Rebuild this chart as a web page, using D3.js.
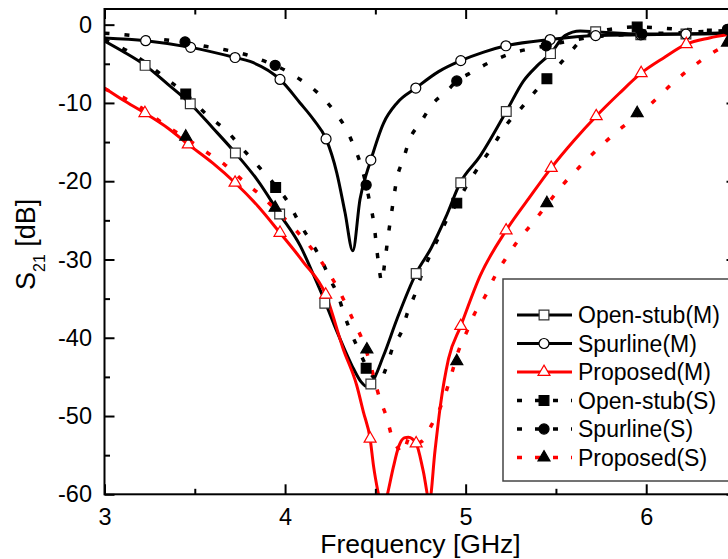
<!DOCTYPE html>
<html>
<head>
<meta charset="utf-8">
<script src="https://cdn.jsdelivr.net/npm/d3@7/dist/d3.min.js"></script>
<style>
  body { margin: 0; background: #fff; }
  svg { display: block; font-family: "Liberation Sans", Arial, sans-serif; }
</style>
</head>
<body>
<svg id="chart" width="728" height="559"></svg>
<script>
// S21 curves, [frequency GHz, dB]
const openStubM = [[3.0,-2.1],[3.1,-3.4],[3.225,-5.2],[3.35,-7.6],[3.475,-10.1],[3.6,-13.2],[3.725,-16.4],[3.845,-19.8],[3.97,-24.2],[4.085,-28.3],[4.16,-32.1],[4.225,-35.6],[4.28,-38.8],[4.33,-41.5],[4.38,-44.0],[4.42,-45.6],[4.45,-46.2],[4.475,-45.9],[4.545,-42.3],[4.62,-37.6],[4.725,-31.8],[4.81,-28.5],[4.89,-24.6],[4.97,-20.2],[5.08,-16.8],[5.225,-11.1],[5.32,-7.2],[5.394,-5.3],[5.47,-3.7],[5.55,-1.4],[5.634,-0.8],[5.72,-0.9],[5.97,-1.2],[6.22,-1.2],[6.5,-1.1]];
const spurlineM = [[3.0,-1.7],[3.228,-2.05],[3.477,-2.9],[3.723,-4.2],[3.806,-4.7],[3.972,-7.0],[4.083,-10.0],[4.16,-12.2],[4.227,-14.6],[4.286,-18.9],[4.332,-24.0],[4.375,-28.9],[4.415,-22.3],[4.475,-17.3],[4.545,-12.6],[4.62,-10.0],[4.724,-8.1],[4.85,-6.0],[4.973,-4.6],[5.1,-3.5],[5.223,-2.7],[5.468,-1.9],[5.72,-1.4],[5.97,-1.3],[6.22,-1.2],[6.5,-1.0]];
const proposedM = [[3.0,-8.1],[3.1,-9.6],[3.224,-11.3],[3.35,-13.2],[3.464,-15.3],[3.6,-17.7],[3.723,-20.2],[3.85,-23.2],[3.972,-26.6],[4.1,-30.3],[4.225,-34.5],[4.323,-41.5],[4.397,-46.1],[4.434,-49.5],[4.471,-52.9],[4.49,-56.4],[4.517,-60],[4.54,-62.5],[4.567,-60],[4.6,-56.5],[4.628,-54],[4.66,-52.8],[4.683,-52.7],[4.726,-53.5],[4.765,-57],[4.8,-60.8],[4.83,-54.5],[4.86,-48.7],[4.905,-42.7],[4.973,-38.5],[5.08,-32.1],[5.224,-26.3],[5.35,-22.2],[5.474,-18.3],[5.6,-14.8],[5.723,-11.7],[5.85,-8.8],[5.972,-6.2],[6.1,-4.2],[6.222,-2.5],[6.35,-1.7],[6.5,-1.1]];
const openStubS = [[3.0,-1.9],[3.16,-3.8],[3.36,-7.2],[3.45,-8.85],[3.566,-11.5],[3.677,-13.6],[3.77,-16.0],[3.86,-18.3],[3.948,-20.6],[4.02,-22.8],[4.083,-25.5],[4.148,-27.9],[4.2,-30.0],[4.249,-32.5],[4.295,-34.7],[4.33,-37.2],[4.37,-39.6],[4.415,-41.9],[4.449,-43.6],[4.5,-45.3],[4.525,-45.6],[4.554,-44.2],[4.6,-41.0],[4.647,-39.1],[4.678,-36.8],[4.72,-34.4],[4.757,-31.9],[4.8,-29.6],[4.85,-27.2],[4.896,-24.9],[4.951,-22.8],[5.015,-20.2],[5.08,-17.9],[5.154,-15.4],[5.219,-13.0],[5.31,-10.6],[5.394,-8.3],[5.45,-6.9],[5.58,-3.5],[5.634,-2.1],[5.75,-0.8],[5.95,-0.3],[6.2,-0.6],[6.5,-0.8]];
const spurlineS = [[3.0,-1.1],[3.16,-1.4],[3.36,-2.0],[3.446,-2.2],[3.566,-2.8],[3.667,-3.2],[3.77,-3.75],[3.88,-4.6],[3.945,-5.2],[4.07,-6.8],[4.185,-8.8],[4.277,-11.2],[4.342,-13.5],[4.386,-15.8],[4.425,-18.3],[4.449,-20.5],[4.47,-22.8],[4.49,-25.1],[4.517,-30.4],[4.535,-32.8],[4.554,-30.0],[4.571,-27.0],[4.59,-24.0],[4.62,-19.6],[4.655,-17.2],[4.689,-14.7],[4.748,-12.6],[4.818,-10.1],[4.896,-8.5],[4.951,-7.2],[5.025,-6.2],[5.126,-4.9],[5.25,-3.7],[5.446,-2.7],[5.7,-1.6],[5.976,-1.2],[6.2,-1.0],[6.5,-0.7]];
const proposedS = [[3.0,-8.2],[3.16,-10.0],[3.36,-13.2],[3.45,-14.5],[3.566,-16.3],[3.667,-17.9],[3.77,-20.0],[3.87,-21.9],[3.972,-24.2],[4.065,-26.4],[4.157,-28.9],[4.23,-31.3],[4.295,-33.8],[4.342,-36.0],[4.388,-38.3],[4.434,-40.6],[4.47,-43.2],[4.526,-47.9],[4.563,-50.2],[4.59,-52.5],[4.628,-54.2],[4.65,-54.8],[4.69,-52.7],[4.72,-53.5],[4.76,-53.2],[4.81,-51.2],[4.86,-48.9],[4.896,-46.6],[4.93,-44.0],[4.96,-41.7],[5.007,-39.2],[5.05,-36.9],[5.108,-34.7],[5.163,-32.1],[5.224,-29.8],[5.293,-27.5],[5.376,-25.2],[5.46,-22.7],[5.54,-20.4],[5.634,-18.1],[5.74,-15.7],[5.846,-13.5],[5.957,-11.5],[6.06,-9.4],[6.15,-7.4],[6.25,-5.5],[6.36,-3.7],[6.5,-2.0]];

// marker positions
const openStubMMarks = [[3.225,-5.2],[3.475,-10.1],[3.725,-16.4],[3.97,-24.2],[4.22,-35.6],[4.475,-45.9],[4.726,-31.8],[4.973,-20.2],[5.225,-11.1],[5.47,-3.7],[5.72,-0.9],[5.97,-1.3],[6.22,-1.2]];
const spurlineMMarks = [[3.228,-2.05],[3.477,-2.9],[3.723,-4.2],[3.972,-7.0],[4.227,-14.6],[4.475,-17.3],[4.724,-8.1],[4.973,-4.6],[5.223,-2.7],[5.468,-1.9],[5.72,-1.4],[5.97,-1.3],[6.22,-1.2]];
const proposedMMarks = [[3.224,-11.3],[3.464,-15.3],[3.723,-20.2],[3.972,-26.6],[4.225,-34.5],[4.471,-52.9],[4.726,-53.5],[4.973,-38.5],[5.224,-26.3],[5.474,-18.3],[5.723,-11.7],[5.972,-6.2],[6.222,-2.5]];
const openStubSMarks = [[3.45,-8.85],[3.948,-20.8],[4.449,-43.9],[4.951,-22.8],[5.45,-6.9],[5.95,-0.3]];
const spurlineSMarks = [[3.446,-2.2],[3.945,-5.2],[4.449,-20.5],[4.951,-7.2],[5.446,-2.7],[5.976,-1.2],[6.45,-0.6]];
const proposedSMarks = [[3.45,-14.3],[3.945,-23.4],[4.453,-41.5],[4.951,-43.0],[5.45,-22.8],[5.95,-11.3],[6.45,-2.3]];

const legendLabels = ["Open-stub(M)", "Spurline(M)", "Proposed(M)", "Open-stub(S)", "Spurline(S)", "Proposed(S)"];
const xTicks = [3, 4, 5, 6];
const yTicks = [-60, -50, -40, -30, -20, -10, 0];

const series = [
  { name: legendLabels[0], data: openStubM, marks: openStubMMarks, color: "#000", dashed: false, symbol: d3.symbolSquare, size: 95, fill: "#fff", mstroke: "#333" },
  { name: legendLabels[1], data: spurlineM, marks: spurlineMMarks, color: "#000", dashed: false, symbol: d3.symbolCircle, size: 78, fill: "#fff", mstroke: "#000" },
  { name: legendLabels[2], data: proposedM, marks: proposedMMarks, color: "#ff0000", dashed: false, symbol: d3.symbolTriangle, size: 62, fill: "#fff", mstroke: "#ff0000" },
  { name: legendLabels[3], data: openStubS, marks: openStubSMarks, color: "#000", dashed: true, symbol: d3.symbolSquare, size: 95, fill: "#000", mstroke: "#000" },
  { name: legendLabels[4], data: spurlineS, marks: spurlineSMarks, color: "#000", dashed: true, symbol: d3.symbolCircle, size: 80, fill: "#000", mstroke: "#000" },
  { name: legendLabels[5], data: proposedS, marks: proposedSMarks, color: "#ff0000", dashed: true, symbol: d3.symbolTriangle, size: 62, fill: "#000", mstroke: "#000" }
];

const svg = d3.select("#chart");
// plot frame (right edge runs past the window, as in the original)
const plotLeft = 104.5, plotRight = 736.5, plotTop = 9, plotBottom = 494.3;

const x = d3.scaleLinear().domain([3, 6.5]).range([plotLeft, plotRight]);
const y = d3.scaleLinear().domain([-60, 2]).range([plotBottom, plotTop]);

svg.append("defs").append("clipPath").attr("id", "plot")
  .append("rect").attr("x", plotLeft).attr("y", plotTop)
  .attr("width", plotRight - plotLeft).attr("height", plotBottom - plotTop);

const line = d3.line()
  .x((d) => x(d[0]))
  .y((d) => y(d[1]))
  .curve(d3.curveMonotoneX);

const DASH = "5,15";

// curves
const plot = svg.append("g").attr("clip-path", "url(#plot)");
series.forEach((s) => {
  plot.append("path")
    .datum(s.data)
    .attr("fill", "none")
    .attr("stroke", s.color)
    .attr("stroke-width", s.dashed ? 3.5 : 3)
    .attr("stroke-dasharray", s.dashed ? DASH : null)
    .attr("d", line);
});

// markers
series.forEach((s) => {
  svg.append("g")
    .selectAll("path")
    .data(s.marks)
    .join("path")
    .attr("transform", (d) => `translate(${x(d[0])},${y(d[1])})`)
    .attr("d", d3.symbol().type(s.symbol).size(s.size))
    .attr("fill", s.fill)
    .attr("stroke", s.mstroke)
    .attr("stroke-width", 1.2);
});

// axes: ticks point inward
const axisStyle = (g) => {
  g.select(".domain").remove();
  g.selectAll("line").attr("stroke", "#000").attr("stroke-width", 2);
  g.selectAll("text").attr("font-size", 23.5).attr("fill", "#000");
};
const xMinor = [3.5, 4.5, 5.5, 6.5];
const yMinor = [-55, -45, -35, -25, -15, -5];

svg.append("g").attr("transform", `translate(0,${plotBottom})`)
  .call(d3.axisBottom(x).tickValues(xTicks).tickFormat(d3.format("d")).tickSizeInner(-10).tickSizeOuter(0).tickPadding(14.5))
  .call(axisStyle);
svg.append("g").attr("transform", `translate(0,${plotBottom})`)
  .call(d3.axisBottom(x).tickValues(xMinor).tickFormat("").tickSizeInner(-5.5).tickSizeOuter(0))
  .call(axisStyle);
svg.append("g").attr("transform", `translate(0,${plotTop})`)
  .call(d3.axisTop(x).tickValues(xTicks).tickFormat("").tickSizeInner(-10).tickSizeOuter(0))
  .call(axisStyle);
svg.append("g").attr("transform", `translate(0,${plotTop})`)
  .call(d3.axisTop(x).tickValues(xMinor).tickFormat("").tickSizeInner(-5.5).tickSizeOuter(0))
  .call(axisStyle);
svg.append("g").attr("transform", `translate(${plotLeft},0)`)
  .call(d3.axisLeft(y).tickValues(yTicks).tickFormat((d) => String(d)).tickSizeInner(-10).tickSizeOuter(0).tickPadding(12.5))
  .call(axisStyle);
svg.append("g").attr("transform", `translate(${plotLeft},0)`)
  .call(d3.axisLeft(y).tickValues(yMinor).tickFormat("").tickSizeInner(-5.5).tickSizeOuter(0))
  .call(axisStyle);
svg.append("g").attr("transform", `translate(${plotRight},0)`)
  .call(d3.axisRight(y).tickValues(yTicks).tickFormat("").tickSizeInner(-10).tickSizeOuter(0))
  .call(axisStyle);
svg.append("g").attr("transform", `translate(${plotRight},0)`)
  .call(d3.axisRight(y).tickValues(yMinor).tickFormat("").tickSizeInner(-5.5).tickSizeOuter(0))
  .call(axisStyle);

svg.append("rect")
  .attr("x", plotLeft).attr("y", plotTop)
  .attr("width", plotRight - plotLeft).attr("height", plotBottom - plotTop)
  .attr("fill", "none").attr("stroke", "#000").attr("stroke-width", 2);

// axis titles
svg.append("text")
  .attr("x", (plotLeft + plotRight) / 2).attr("y", 553)
  .attr("text-anchor", "middle").attr("font-size", 26.5)
  .text("Frequency [GHz]");

const yTitle = svg.append("text")
  .attr("transform", "translate(35,290) rotate(-90)")
  .attr("font-size", 27);
yTitle.append("tspan").text("S");
yTitle.append("tspan").attr("font-size", 16).attr("dy", 10).text("21");
yTitle.append("tspan").attr("dy", -10).text(" [dB]");

// legend
const lg = svg.append("g");
lg.append("rect")
  .attr("x", 503).attr("y", 279).attr("width", 240).attr("height", 202)
  .attr("fill", "#fff").attr("stroke", "#444").attr("stroke-width", 1.5);

series.forEach((s, i) => {
  const ry = 315 + i * 28.5;
  lg.append("line")
    .attr("x1", 517).attr("x2", 572).attr("y1", ry).attr("y2", ry)
    .attr("stroke", s.color)
    .attr("stroke-width", s.dashed ? 3.5 : 3)
    .attr("stroke-dasharray", s.dashed ? "5,13" : null);
  lg.append("path")
    .attr("transform", `translate(544,${ry})`)
    .attr("d", d3.symbol().type(s.symbol).size(s.size))
    .attr("fill", s.fill)
    .attr("stroke", s.mstroke)
    .attr("stroke-width", 1.2);
  lg.append("text")
    .attr("x", 578).attr("y", ry)
    .attr("dy", "0.35em")
    .attr("font-size", 23)
    .text(s.name);
});
</script>
</body>
</html>
